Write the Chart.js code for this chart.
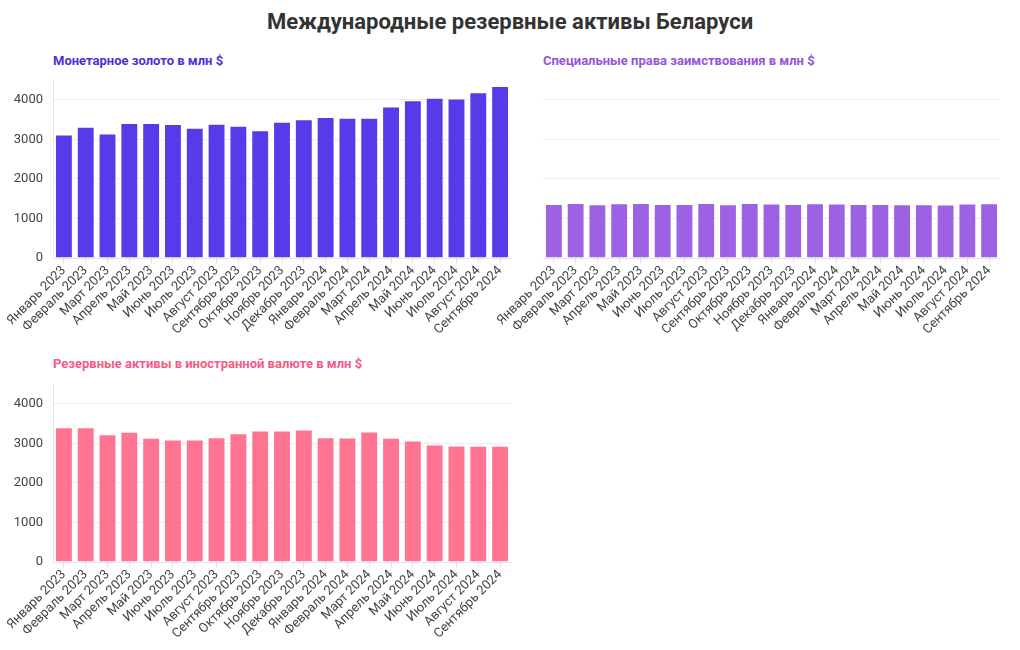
<!DOCTYPE html>
<html>
<head>
<meta charset="utf-8">
<script src="https://cdn.jsdelivr.net/npm/chart.js@4.4.1/dist/chart.umd.min.js"></script>
<style>
  body { margin: 0; background: #fff; font-family: Roboto, "Noto Sans", sans-serif; }
  #wrap { position: relative; width: 1020px; height: 650px; }
  h1 { position: absolute; left: 0; top: 9px; width: 1020px; margin: 0; text-align: center;
       font-size: 22px; font-weight: bold; color: #333; }
  .sub { position: absolute; font-size: 13px; font-weight: bold; }
  .box { position: absolute; }
</style>
</head>
<body>
<div id="wrap">
  <h1>Международные резервные активы Беларуси</h1>
  <div class="sub" style="left:53px; top:53px; color:#4b30d9;">Монетарное золото в млн $</div>
  <div class="sub" style="left:543px; top:53px; color:#9455db;">Специальные права заимствования в млн $</div>
  <div class="sub" style="left:53px; top:356px; color:#f05c86;">Резервные активы в иностранной валюте в млн $</div>
  <div class="box" style="left:0; top:75px; width:520px; height:263px;"><canvas id="goldChart"></canvas></div>
  <div class="box" style="left:460px; top:75px; width:560px; height:263px;"><canvas id="sdrChart"></canvas></div>
  <div class="box" style="left:0; top:379px; width:520px; height:263px;"><canvas id="fxChart"></canvas></div>
</div>
<script>
// месяцы
const months = ['Январь 2023', 'Февраль 2023', 'Март 2023', 'Апрель 2023', 'Май 2023', 'Июнь 2023',
  'Июль 2023', 'Август 2023', 'Сентябрь 2023', 'Октябрь 2023', 'Ноябрь 2023', 'Декабрь 2023',
  'Январь 2024', 'Февраль 2024', 'Март 2024', 'Апрель 2024', 'Май 2024', 'Июнь 2024',
  'Июль 2024', 'Август 2024', 'Сентябрь 2024'];

const goldValues = [3120, 3320, 3145, 3410, 3410, 3385, 3295, 3395, 3345, 3230, 3445,
  3510, 3565, 3545, 3545, 3830, 3990, 4050, 4035, 4190, 4350];
const sdrValues = [1367, 1392, 1358, 1384, 1392, 1367, 1367, 1392, 1358, 1392, 1375,
  1367, 1384, 1375, 1367, 1367, 1358, 1358, 1350, 1375, 1384];
const fxValues = [3408, 3408, 3230, 3290, 3140, 3096, 3096, 3155, 3256, 3325, 3325,
  3350, 3155, 3150, 3300, 3140, 3072, 2970, 2945, 2940, 2940];

const yTicks = [0, 1000, 2000, 3000, 4000];
const yMax = 4500;

const fontFamily = 'Roboto, "Noto Sans", sans-serif';

function makeChart(id, values, color, showLabels, axisWidth, padRight) {
  const ctx = document.getElementById(id).getContext('2d');
  return new Chart(ctx, {
    type: 'bar',
    data: {
      labels: months,
      datasets: [{
        data: values,
        backgroundColor: color,
        borderColor: 'rgba(255,255,255,0.6)',
        borderWidth: 1,
        barPercentage: 1,
        categoryPercentage: 0.82
      }]
    },
    options: {
      responsive: true,
      maintainAspectRatio: false,
      animation: false,
      layout: { padding: { top: 5, right: padRight, left: 0, bottom: 0 } },
      plugins: { legend: { display: false }, tooltip: { enabled: false } },
      scales: {
        x: {
          grid: { offset: false, drawOnChartArea: false, tickLength: 5, color: '#e2e2e2' },
          border: { color: '#e6e6e6' },
          ticks: {
            minRotation: 45, maxRotation: 45, autoSkip: false, padding: 0,
            color: '#444', font: { family: fontFamily, size: 13 }
          },
          afterFit: function (scale) {
            scale.height = 80;
            scale.paddingLeft = 0;
            scale.paddingRight = 0;
          }
        },
        y: {
          min: 0,
          max: yMax,
          afterBuildTicks: function (scale) {
            scale.ticks = yTicks.map(v => ({ value: v }));
          },
          grid: {
            color: '#ececec',
            drawTicks: false
          },
          border: { display: showLabels, color: '#e6e6e6' },
          ticks: {
            display: showLabels,
            padding: 10,
            color: '#444',
            font: { family: fontFamily, size: 13 },
            callback: function (value) { return String(value); }
          },
          afterFit: function (scale) {
            scale.width = axisWidth;
            scale.paddingTop = 0;
            scale.paddingBottom = 0;
          }
        }
      }
    }
  });
}

makeChart('goldChart', goldValues, '#553ce8', true, 53, 9);
makeChart('sdrChart', sdrValues, '#9c62e3', false, 83, 20);
makeChart('fxChart', fxValues, '#ff7490', true, 53, 9);
</script>
</body>
</html>
